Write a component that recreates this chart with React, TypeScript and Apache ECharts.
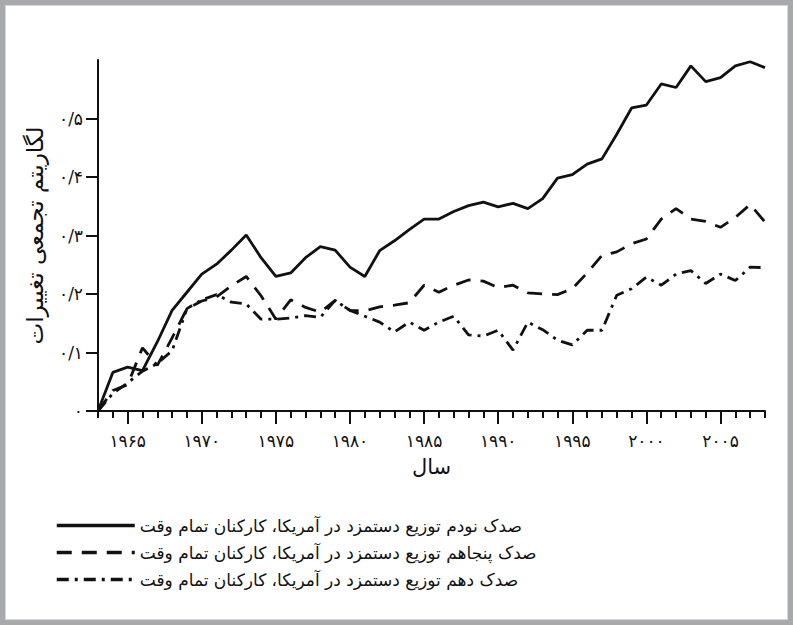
import React, { useEffect, useRef } from "react";
import * as echarts from "echarts";

const years: number[] = [];
for (let y = 1963; y <= 2008; y++) years.push(y);

const p90 = [
  0, 0.066, 0.075, 0.069, 0.118, 0.172, 0.203, 0.234, 0.251, 0.275,
  0.301, 0.262, 0.23, 0.236, 0.262, 0.281, 0.275, 0.246, 0.23, 0.274,
  0.291, 0.31, 0.328, 0.328, 0.341, 0.351, 0.357, 0.349, 0.355, 0.346,
  0.363, 0.398, 0.404, 0.422, 0.431, 0.473, 0.518, 0.523, 0.559, 0.553,
  0.59, 0.563, 0.57, 0.59, 0.597, 0.587,
];
const p50 = [
  0, 0.035, 0.045, 0.108, 0.078, 0.125, 0.175, 0.188, 0.195, 0.214,
  0.23, 0.197, 0.157, 0.19, 0.177, 0.169, 0.189, 0.172, 0.171, 0.178,
  0.181, 0.185, 0.215, 0.203, 0.215, 0.224, 0.222, 0.211, 0.215, 0.202,
  0.2, 0.199, 0.209, 0.236, 0.266, 0.272, 0.286, 0.294, 0.328, 0.346,
  0.328, 0.324, 0.314, 0.331, 0.353, 0.323,
];
const p10 = [
  0, 0.03, 0.048, 0.068, 0.081, 0.103, 0.175, 0.19, 0.199, 0.186,
  0.183, 0.157, 0.157, 0.159, 0.163, 0.16, 0.189, 0.172, 0.162, 0.152,
  0.135, 0.152, 0.138, 0.152, 0.162, 0.13, 0.128, 0.138, 0.104, 0.152,
  0.139, 0.121, 0.113, 0.138, 0.138, 0.198, 0.209, 0.229, 0.215, 0.234,
  0.24, 0.218, 0.234, 0.223, 0.246, 0.245,
];

const seriesNames = [
  "صدک نودم توزیع دستمزد در آمریکا، کارکنان تمام وقت",
  "صدک پنجاهم توزیع دستمزد در آمریکا، کارکنان تمام وقت",
  "صدک دهم توزیع دستمزد در آمریکا، کارکنان تمام وقت",
];

const xTickValues = [1965, 1970, 1975, 1980, 1985, 1990, 1995, 2000, 2005];
const xTickLabels = ["۱۹۶۵", "۱۹۷۰", "۱۹۷۵", "۱۹۸۰", "۱۹۸۵", "۱۹۹۰", "۱۹۹۵", "۲۰۰۰", "۲۰۰۵"];
const yTickValues = [0, 0.1, 0.2, 0.3, 0.4, 0.5];
const yTickLabels = ["۰", "۰/۱", "۰/۲", "۰/۳", "۰/۴", "۰/۵"];

const xAxisName = "سال";
const yAxisName = "لگاریتم تجمعی تغییرات";

const FONT = "DejaVu Sans";

export default function App() {
  const ref = useRef<HTMLDivElement>(null);

  useEffect(() => {
    if (!ref.current) return;
    const chart = echarts.init(ref.current, undefined, { renderer: "svg" });
    const lineBase = { color: "#111", width: 2.8 };
    const mk = (name: string, vals: number[], type: any) => ({
      name,
      type: "line",
      data: years.map((y, i) => [y, vals[i]]),
      symbol: "none",
      showSymbol: false,
      lineStyle: { ...lineBase, type, cap: "butt" },
      itemStyle: { color: "#111" },
      silent: true,
    });
    chart.setOption({
      animation: false,
      backgroundColor: "transparent",
      grid: { left: 98, right: 28, top: 60, bottom: 214, containLabel: false },
      legend: {
        orient: "vertical",
        left: 50,
        top: 512,
        itemWidth: 78,
        itemHeight: 16,
        itemGap: 10,
        data: seriesNames,
        itemStyle: { opacity: 0 },
        lineStyle: { width: 3.5 },
        textStyle: { fontFamily: FONT, fontSize: 17, color: "#111" },
        selectedMode: false,
      },
      xAxis: [
        {
          type: "value",
          min: 1963,
          max: 2008,
          interval: 1,
          name: xAxisName,
          nameLocation: "middle",
          nameGap: 45,
          nameTextStyle: { fontFamily: FONT, fontSize: 21, color: "#111" },
          axisLine: { show: true, onZero: false, lineStyle: { color: "#111", width: 2 } },
          axisTick: { show: true, length: 7, lineStyle: { color: "#111", width: 2 } },
          axisLabel: {
            show: true,
            customValues: xTickValues,
            margin: 21,
            fontFamily: FONT,
            fontSize: 17,
            color: "#111",
            formatter: (v: number) => {
              const i = xTickValues.indexOf(Math.round(v));
              return i >= 0 ? xTickLabels[i] : "";
            },
          },
          splitLine: { show: false },
        },
        {
          type: "value",
          min: 1963,
          max: 2008,
          position: "bottom",
          offset: 0,
          axisLine: { show: false },
          axisTick: { show: true, customValues: xTickValues, length: 13, lineStyle: { color: "#111", width: 2 } },
          axisLabel: { show: false },
          splitLine: { show: false },
        },
      ],
      yAxis: {
        type: "value",
        min: 0,
        max: 0.6,
        interval: 0.1,
        name: yAxisName,
        nameLocation: "middle",
        nameRotate: 90,
        nameGap: 52,
        nameTextStyle: { fontFamily: FONT, fontSize: 23, color: "#111" },
        axisLine: { show: true, onZero: false, lineStyle: { color: "#111", width: 2 } },
        axisTick: { show: true, customValues: yTickValues, length: 12, lineStyle: { color: "#111", width: 2 } },
        axisLabel: {
          show: true,
          customValues: yTickValues,
          margin: 15,
          fontFamily: FONT,
          fontSize: 17,
          color: "#111",
          formatter: (v: number) => {
            const i = yTickValues.findIndex((t) => Math.abs(t - v) < 1e-6);
            return i >= 0 ? yTickLabels[i] : "";
          },
        },
        splitLine: { show: false },
      },
      series: [
        mk(seriesNames[0], p90, "solid"),
        mk(seriesNames[1], p50, [15, 10]),
        mk(seriesNames[2], p10, [12, 6, 3, 6]),
      ],
    });
    return () => chart.dispose();
  }, []);

  return (
    <div style={{ position: "absolute", left: 0, top: 0, width: 793, height: 625, background: "#a7a9ac" }}>
      <div
        style={{
          position: "absolute",
          left: 5,
          top: 5,
          right: 5,
          bottom: 5,
          background: "#fff",
          boxSizing: "border-box",
          border: "1px solid #d6d6d6",
        }}
      />
      <div ref={ref} style={{ position: "absolute", left: 0, top: 0, width: 793, height: 625 }} />
    </div>
  );
}
